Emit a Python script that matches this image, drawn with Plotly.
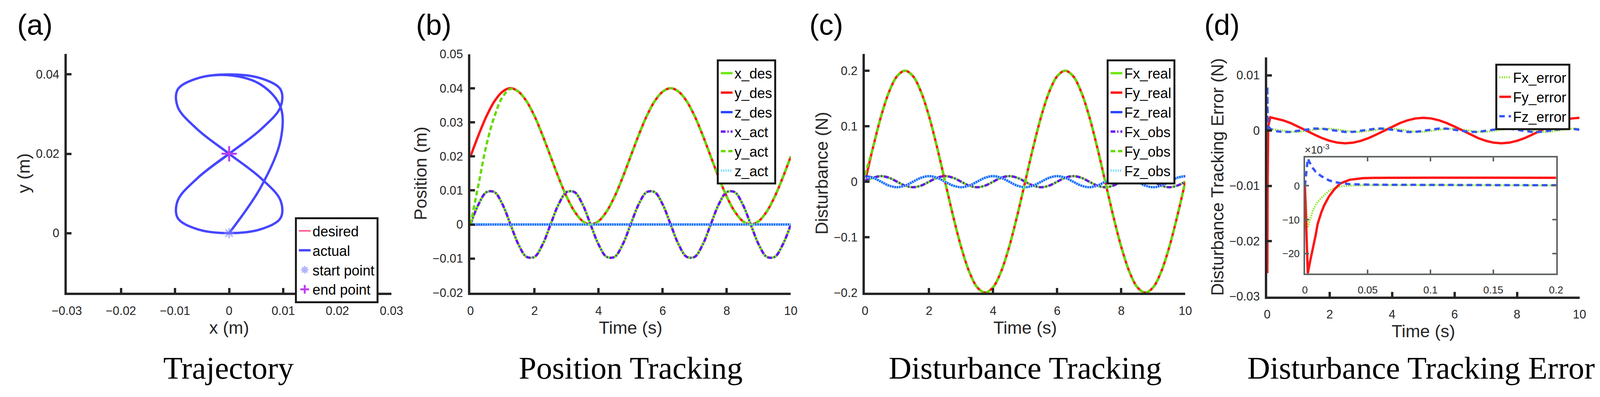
import plotly.graph_objects as go

# reference frame the positions below were measured in
W, H = 4302, 1016
FS = 0.975  # the page viewport is a bit narrower than W, keep text from overflowing

# time base for panels (b), (c), (d) -- sampled every 0.25 s
t = [0, 0.25, 0.5, 0.75, 1, 1.25, 1.5, 1.75, 2, 2.25, 2.5, 2.75, 3, 3.25, 3.5, 3.75,
     4, 4.25, 4.5, 4.75, 5, 5.25, 5.5, 5.75, 6, 6.25, 6.5, 6.75, 7, 7.25, 7.5, 7.75,
     8, 8.25, 8.5, 8.75, 9, 9.25, 9.5, 9.75, 10]

# (b) position tracking (m)
x_des = [0, .0059, .0095, .0095, .0059, 0, -.0059, -.0095, -.0095, -.0059,
         0, .0059, .0095, .0095, .0059, 0, -.0059, -.0095, -.0095, -.0059,
         0, .0059, .0095, .0095, .0059, 0, -.0059, -.0095, -.0095, -.0059,
         0, .0059, .0095, .0095, .0059, 0, -.0059, -.0095, -.0095, -.0059, 0]
y_des = [.02, .0262, .0318, .0362, .0390, .04, .0390, .0362, .0318, .0262,
         .02, .0138, .0082, .0038, .0010, 0, .0010, .0038, .0082, .0138,
         .02, .0262, .0318, .0362, .0390, .04, .0390, .0362, .0318, .0262,
         .02, .0138, .0082, .0038, .0010, 0, .0010, .0038, .0082, .0138, .02]
z_des = [0] * 41
x_act = x_des[:]  # sits on top of x_des
y_act = [0, .0117, .0234, .0318, .0374, .0398, .0390, .0362, .0318, .0262,
         .02, .0138, .0082, .0038, .0010, 0, .0010, .0038, .0082, .0138,
         .02, .0262, .0318, .0362, .0390, .04, .0390, .0362, .0318, .0262,
         .02, .0138, .0082, .0038, .0010, 0, .0010, .0038, .0082, .0138, .02]
z_act = [0, .0002, .0001] + [0] * 38

# (c) disturbance (N)
fx_real = [0, .0071, .01, .0071, 0, -.0071, -.01, -.0071,
           0, .0071, .01, .0071, 0, -.0071, -.01, -.0071,
           0, .0071, .01, .0071, 0, -.0071, -.01, -.0071,
           0, .0071, .01, .0071, 0, -.0071, -.01, -.0071,
           0, .0071, .01, .0071, 0, -.0071, -.01, -.0071, 0]
fy_real = [0, .0618, .1176, .1618, .1902, .2, .1902, .1618, .1176, .0618,
           0, -.0618, -.1176, -.1618, -.1902, -.2, -.1902, -.1618, -.1176, -.0618,
           0, .0618, .1176, .1618, .1902, .2, .1902, .1618, .1176, .0618,
           0, -.0618, -.1176, -.1618, -.1902, -.2, -.1902, -.1618, -.1176, -.0618, 0]
fz_real = [.01, .0071, 0, -.0071, -.01, -.0071, 0, .0071,
           .01, .0071, 0, -.0071, -.01, -.0071, 0, .0071,
           .01, .0071, 0, -.0071, -.01, -.0071, 0, .0071,
           .01, .0071, 0, -.0071, -.01, -.0071, 0, .0071,
           .01, .0071, 0, -.0071, -.01, -.0071, 0, .0071, .01]
fx_obs = [.003] + fx_real[1:]
fy_obs = [.012] + fy_real[1:]
fz_obs = [.006] + fz_real[1:]

# (d) disturbance tracking error (N); dense start for the initial spike
t_err = [0, 0.0025, 0.01, 0.03, 0.1] + t[1:]
fx_err = [0, -.0123, -.0048, -.0002, .0003,
          .00019, -.00004, -.00022, -.00024, -.00009, .00014, .00032, .00034,
          .00019, -.00004, -.00022, -.00024, -.00009, .00014, .00032, .00034,
          .00019, -.00004, -.00022, -.00024, -.00009, .00014, .00032, .00034,
          .00019, -.00004, -.00022, -.00024, -.00009, .00014, .00032, .00034,
          .00019, -.00004, -.00022, -.00024, -.00009, .00014, .00032, .00034]
fy_err = [0, -.0258, -.0113, .0008, .0024,
          .00219, .00186, .00135, .00071, 0, -.00071, -.00135, -.00186, -.00219, -.0023,
          -.00219, -.00186, -.00135, -.00071, 0, .00071, .00135, .00186, .00219, .0023,
          .00219, .00186, .00135, .00071, 0, -.00071, -.00135, -.00186, -.00219, -.0023,
          -.00219, -.00186, -.00135, -.00071, 0, .00071, .00135, .00186, .00219, .0023]
fz_err = [0, .0080, .0036, .0008, .0003,
          -.0001, -.00026, -.00024, -.00005, .0002, .00036, .00034, .00015,
          -.0001, -.00026, -.00024, -.00005, .0002, .00036, .00034, .00015,
          -.0001, -.00026, -.00024, -.00005, .0002, .00036, .00034, .00015,
          -.0001, -.00026, -.00024, -.00005, .0002, .00036, .00034, .00015,
          -.0001, -.00026, -.00024, -.00005, .0002, .00036, .00034, .00015]

# inset of (d): first 0.2 s, in units of 1e-3 N
t_zoom = [0, 0.0023, 0.004, 0.0063, 0.0086, 0.0101, 0.0131, 0.0153, 0.0191,
          0.0236, 0.0281, 0.0356, 0.0461, 0.0536, 0.07, 0.1, 0.15, 0.2]
fx_zoom = [0, -12.3, -10.0, -7.4, -5.6, -4.8, -3.6, -2.8, -1.5,
           -0.7, -0.2, 0.05, 0.15, 0.18, 0.2, 0.2, 0.15, 0.1]
fy_zoom = [0, -25.8, -22.5, -18.6, -14.5, -11.3, -7.8, -5.8, -3.2,
           -1.0, 0.66, 1.76, 2.24, 2.32, 2.39, 2.38, 2.36, 2.35]
fz_zoom = [0, 8.0, 6.7, 5.2, 4.1, 3.6, 2.8, 2.4, 1.6,
           1.1, 0.8, 0.48, 0.35, 0.3, 0.28, 0.25, 0.2, 0.15]

captions = ["Trajectory", "Position Tracking", "Disturbance Tracking",
            "Disturbance Tracking Error"]
panel_tags = ["(a)", "(b)", "(c)", "(d)"]

# colours
GREEN = "#6EE614"
RED = "#FF1414"
BLUE = "#2846FF"
PURPLE = "#6A14F0"
GREEN2 = "#66D900"
CYAN = "#6EDCFF"
AX = "#262626"
FONT = "Liberation Sans, Arial, Helvetica, sans-serif"
DASH = "12px,7px"
DASHDOT = "12px,5px,3px,5px"
DOT = "3px,3px"


def px(v):
    return v / W


def py(v):
    return 1 - v / H


fig = go.Figure()


def line(x, y, name, color, width, dash="solid", xa="x", ya="y", leg="legend",
         shape="spline"):
    fig.add_trace(go.Scatter(x=x, y=y, name=name, mode="lines",
                             line=dict(color=color, width=width, dash=dash, shape=shape),
                             xaxis=xa, yaxis=ya, legend=leg))


# (a)
line(x_des, y_des, "desired", "#FF5A8C", 4)
line(x_act, y_act, "actual", "#4646FF", 6)
fig.add_trace(go.Scatter(x=[x_act[0]], y=[y_act[0]], name="start point", mode="markers",
                         marker=dict(symbol="asterisk-open", size=22,
                                     color="rgba(130,130,255,0.6)",
                                     line=dict(color="rgba(130,130,255,0.6)", width=4)),
                         legend="legend"))
fig.add_trace(go.Scatter(x=[x_act[-1]], y=[y_act[-1]], name="end point", mode="markers",
                         marker=dict(symbol="cross-thin-open", size=28, color="#C23BF2",
                                     line=dict(color="#C23BF2", width=5)),
                         legend="legend"))

# (b)
line(t, x_des, "x_des", GREEN, 6, xa="x2", ya="y2", leg="legend2")
line(t, y_des, "y_des", RED, 6, xa="x2", ya="y2", leg="legend2")
line(t, z_des, "z_des", BLUE, 6, xa="x2", ya="y2", leg="legend2")
line(t, x_act, "x_act", PURPLE, 6, DASHDOT, xa="x2", ya="y2", leg="legend2")
line(t, y_act, "y_act", GREEN2, 6, DASH, xa="x2", ya="y2", leg="legend2")
line(t, z_act, "z_act", CYAN, 6, DOT, xa="x2", ya="y2", leg="legend2")

# (c)
line(t, fx_real, "Fx_real", GREEN, 6, xa="x3", ya="y3", leg="legend3")
line(t, fy_real, "Fy_real", RED, 6, xa="x3", ya="y3", leg="legend3")
line(t, fz_real, "Fz_real", BLUE, 6, xa="x3", ya="y3", leg="legend3")
line(t, fx_obs, "Fx_obs", PURPLE, 6, DASHDOT, xa="x3", ya="y3", leg="legend3")
line(t, fy_obs, "Fy_obs", GREEN2, 6, DASH, xa="x3", ya="y3", leg="legend3")
line(t, fz_obs, "Fz_obs", CYAN, 6, DOT, xa="x3", ya="y3", leg="legend3")

# (d)
line(t_err, fx_err, "Fx_error", "#8CE628", 5, DOT, xa="x4", ya="y4", leg="legend4", shape="linear")
line(t_err, fy_err, "Fy_error", RED, 6, xa="x4", ya="y4", leg="legend4", shape="linear")
line(t_err, fz_err, "Fz_error", "#3755F5", 6, "14px,10px", xa="x4", ya="y4", leg="legend4", shape="linear")
for yy, c, w, d in [(fx_zoom, "#8CE628", 5, DOT), (fy_zoom, RED, 6, "solid"),
                    (fz_zoom, "#3755F5", 6, "14px,10px")]:
    fig.add_trace(go.Scatter(x=t_zoom, y=yy, mode="lines", showlegend=False,
                             line=dict(color=c, width=w, dash=d), xaxis="x5", yaxis="y5"))


def axis(domain, rng, dtick, anchor, title, standoff, pad):
    return dict(domain=domain, range=rng, dtick=dtick, tick0=0, anchor=anchor,
                showline=True, linecolor=AX, linewidth=6, ticks="inside", ticklen=12,
                tickwidth=6, tickcolor=AX, showgrid=False, zeroline=False,
                tickfont=dict(family=FONT, size=31.5 * FS, color=AX), ticklabelstandoff=pad,
                title=dict(text=title, font=dict(family=FONT, size=46 * FS, color=AX),
                           standoff=standoff))


e = 1e-9
layout = dict(
    height=H, margin=dict(l=0, r=0, t=0, b=0), autosize=True,
    paper_bgcolor="white", plot_bgcolor="white",
    font=dict(family=FONT, color=AX),
    xaxis=axis([px(141), px(1029)], [-0.03 - e, 0.03 + e], 0.01, "y", "x (m)", 9, 14),
    yaxis=axis([py(758), py(125)], [-0.015, 0.0452], 0.02, "x", "y (m)", 3, 7),
    xaxis2=axis([px(1245), px(2121)], [0, 10], 2, "y2", "Time (s)", 9, 14),
    yaxis2=axis([py(758), py(126)], [-0.02 - e, 0.05 + e], 0.01, "x2", "Position (m)", 3, 7),
    xaxis3=axis([px(2324), px(3200)], [0, 10], 2, "y3", "Time (s)", 9, 14),
    yaxis3=axis([py(758), py(125)], [-0.2 - e, 0.2305], 0.1, "x3", "Disturbance (N)", 3, 7),
    xaxis4=axis([px(3424), px(4278)], [0, 10], 2, "y4", "Time (s)", 9, 14),
    yaxis4=axis([py(768), py(135)], [-0.03 - e, 0.0132], 0.01, "x4",
                "Disturbance Tracking Error (N)", 3, 7),
    xaxis5=dict(domain=[px(3527), px(4214)], range=[0, 0.2], dtick=0.05, anchor="y5",
                showline=True, mirror="ticks", linecolor="#5E6363", linewidth=4,
                ticks="inside", ticklen=10, tickwidth=4, tickcolor="#5E6363",
                showgrid=False, zeroline=False, ticklabelstandoff=16,
                tickfont=dict(family=FONT, size=27 * FS, color=AX)),
    yaxis5=dict(domain=[py(707), py(400)], range=[-25.8, 8.3], dtick=10, anchor="x5",
                showline=True, mirror="ticks", linecolor="#5E6363", linewidth=4,
                ticks="inside", ticklen=10, tickwidth=4, tickcolor="#5E6363",
                showgrid=False, zeroline=False, ticklabelstandoff=4,
                tickfont=dict(family=FONT, size=27 * FS, color=AX)),
)

leg_style = dict(bgcolor="white", bordercolor="#1A1A1A", borderwidth=5,
                 font=dict(family=FONT, size=37 * FS, color="black"),
                 xanchor="left", yanchor="top", tracegroupgap=0)
layout["legend"] = dict(x=px(765), y=py(558), **leg_style)
layout["legend2"] = dict(x=px(1919), y=py(140), **leg_style)
layout["legend3"] = dict(x=px(2985), y=py(140), **leg_style)
layout["legend4"] = dict(x=px(4048), y=py(151), **leg_style)
fig.update_layout(**layout)

# panel tags and captions
tag_x = [3, 1094, 2170, 3250]
cap_x = [584, 1683, 2762, 3845]
for i in range(4):
    fig.add_annotation(text=panel_tags[i], x=px(tag_x[i]), y=py(48), xref="paper",
                       yref="paper", xanchor="left", yanchor="middle", showarrow=False,
                       font=dict(family=FONT, size=76 * FS, color="black"))
    fig.add_annotation(text=captions[i], x=px(cap_x[i]), y=py(958), xref="paper",
                       yref="paper", xanchor="center", yanchor="middle", showarrow=False,
                       font=dict(family="Liberation Serif, Times New Roman, serif",
                                 size=83 * FS, color="black"))
fig.add_annotation(text="\u00d710<sup>-3</sup>", x=px(3524), y=py(398), xref="paper",
                   yref="paper", xanchor="left", yanchor="bottom", showarrow=False,
                   font=dict(family=FONT, size=28 * FS, color=AX))

# fill the whole window: drop the default body margin and re-fit the graph
fit = ("document.body.style.margin='0';"
       "Plotly.Plots.resize(document.getElementById('{plot_id}'));")
fig.write_html("out.html", config={"displayModeBar": False, "responsive": True},
               default_width="100%", post_script=fit)
